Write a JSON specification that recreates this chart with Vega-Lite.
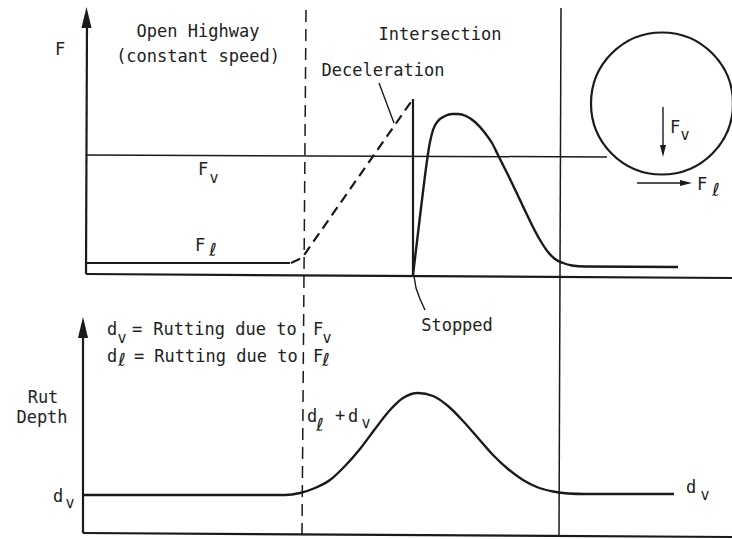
{
  "$schema": "https://vega.github.io/schema/vega-lite/v6.json",
  "width": 732,
  "height": 539,
  "autosize": {"type": "none"},
  "padding": 0,
  "background": "white",
  "config": {"view": {"stroke": null}},
  "datasets": {
    "lines": [
      {"id": "yaxisTop", "kind": "heavy", "o": 0, "x": 86, "y": 265},
      {"id": "yaxisTop", "kind": "heavy", "o": 1, "x": 87, "y": 519},
      {"id": "xaxisTop", "kind": "heavy", "o": 0, "x": 86, "y": 265},
      {"id": "xaxisTop", "kind": "heavy", "o": 1, "x": 732, "y": 261},
      {"id": "flBase", "kind": "heavy", "o": 0, "x": 86, "y": 276},
      {"id": "flBase", "kind": "heavy", "o": 1, "x": 290, "y": 276},
      {"id": "spike", "kind": "heavy", "o": 0, "x": 413, "y": 440},
      {"id": "spike", "kind": "heavy", "o": 1, "x": 413, "y": 264},
      {"id": "yaxisBot", "kind": "heavy", "o": 0, "x": 83, "y": 6},
      {"id": "yaxisBot", "kind": "heavy", "o": 1, "x": 83, "y": 204},
      {"id": "xaxisBot", "kind": "heavy", "o": 0, "x": 83, "y": 6},
      {"id": "xaxisBot", "kind": "heavy", "o": 1, "x": 732, "y": 2},
      {"id": "fvLine", "kind": "guide", "o": 0, "x": 86, "y": 384},
      {"id": "fvLine", "kind": "guide", "o": 1, "x": 607, "y": 382},
      {"id": "vSolid", "kind": "guide", "o": 0, "x": 561, "y": 531},
      {"id": "vSolid", "kind": "guide", "o": 1, "x": 559, "y": 4},
      {"id": "vDash", "kind": "dash", "o": 0, "x": 306, "y": 529},
      {"id": "vDash", "kind": "dash", "o": 1, "x": 302, "y": 4},
      {"id": "ramp", "kind": "decel", "o": 0, "x": 291, "y": 276},
      {"id": "ramp", "kind": "decel", "o": 1, "x": 302, "y": 281},
      {"id": "ramp", "kind": "decel", "o": 2, "x": 413, "y": 440},
      {"id": "decelPtr", "kind": "thin", "o": 0, "x": 379, "y": 456},
      {"id": "decelPtr", "kind": "thin", "o": 1, "x": 394, "y": 416},
      {"id": "stopPtr", "kind": "thin", "o": 0, "x": 414, "y": 263},
      {"id": "stopPtr", "kind": "thin", "o": 1, "x": 416, "y": 251},
      {"id": "stopPtr", "kind": "thin", "o": 2, "x": 420, "y": 240},
      {"id": "stopPtr", "kind": "thin", "o": 3, "x": 425, "y": 229},
      {"id": "fvShaft", "kind": "thin", "o": 0, "x": 663, "y": 432},
      {"id": "fvShaft", "kind": "thin", "o": 1, "x": 663, "y": 390},
      {"id": "flShaft", "kind": "thin", "o": 0, "x": 637, "y": 356},
      {"id": "flShaft", "kind": "thin", "o": 1, "x": 684, "y": 356}
    ],
    "curves": [
      {"id": "force", "o": 0, "x": 413, "y": 264},
      {"id": "force", "o": 1, "x": 421, "y": 331},
      {"id": "force", "o": 2, "x": 430, "y": 397},
      {"id": "force", "o": 3, "x": 433, "y": 409},
      {"id": "force", "o": 4, "x": 438, "y": 418},
      {"id": "force", "o": 5, "x": 445, "y": 423},
      {"id": "force", "o": 6, "x": 452, "y": 425},
      {"id": "force", "o": 7, "x": 458, "y": 425},
      {"id": "force", "o": 8, "x": 466, "y": 423},
      {"id": "force", "o": 9, "x": 475, "y": 417},
      {"id": "force", "o": 10, "x": 485, "y": 406},
      {"id": "force", "o": 11, "x": 492, "y": 396},
      {"id": "force", "o": 12, "x": 498, "y": 384},
      {"id": "force", "o": 13, "x": 510, "y": 360},
      {"id": "force", "o": 14, "x": 520, "y": 339},
      {"id": "force", "o": 15, "x": 530, "y": 318},
      {"id": "force", "o": 16, "x": 540, "y": 299},
      {"id": "force", "o": 17, "x": 548, "y": 287},
      {"id": "force", "o": 18, "x": 555, "y": 280},
      {"id": "force", "o": 19, "x": 563, "y": 276},
      {"id": "force", "o": 20, "x": 572, "y": 273.5},
      {"id": "force", "o": 21, "x": 585, "y": 272.5},
      {"id": "force", "o": 22, "x": 678, "y": 272},
      {"id": "rut", "o": 0, "x": 83, "y": 44},
      {"id": "rut", "o": 1, "x": 285, "y": 44},
      {"id": "rut", "o": 2, "x": 300, "y": 46},
      {"id": "rut", "o": 3, "x": 315, "y": 51},
      {"id": "rut", "o": 4, "x": 330, "y": 59},
      {"id": "rut", "o": 5, "x": 345, "y": 73},
      {"id": "rut", "o": 6, "x": 360, "y": 90},
      {"id": "rut", "o": 7, "x": 375, "y": 110},
      {"id": "rut", "o": 8, "x": 390, "y": 129},
      {"id": "rut", "o": 9, "x": 403, "y": 141},
      {"id": "rut", "o": 10, "x": 418, "y": 146},
      {"id": "rut", "o": 11, "x": 433, "y": 143},
      {"id": "rut", "o": 12, "x": 448, "y": 133},
      {"id": "rut", "o": 13, "x": 463, "y": 118},
      {"id": "rut", "o": 14, "x": 478, "y": 101},
      {"id": "rut", "o": 15, "x": 493, "y": 84},
      {"id": "rut", "o": 16, "x": 508, "y": 70},
      {"id": "rut", "o": 17, "x": 523, "y": 59},
      {"id": "rut", "o": 18, "x": 538, "y": 51.5},
      {"id": "rut", "o": 19, "x": 553, "y": 47.5},
      {"id": "rut", "o": 20, "x": 568, "y": 45.5},
      {"id": "rut", "o": 21, "x": 585, "y": 45},
      {"id": "rut", "o": 22, "x": 674, "y": 45}
    ],
    "heads": [
      {"dir": "up", "x": 86.5, "y": 521.5},
      {"dir": "up", "x": 83, "y": 211.5},
      {"dir": "down", "x": 663, "y": 388},
      {"dir": "right", "x": 686, "y": 356}
    ],
    "wheel": [
      {"x": 662, "y": 435.5}
    ],
    "labels": [
      {"t": "F", "x": 60, "y": 484},
      {"t": "Open Highway", "x": 198, "y": 502},
      {"t": "(constant speed)", "x": 198, "y": 477},
      {"t": "Intersection", "x": 440, "y": 499},
      {"t": "Deceleration", "x": 383, "y": 463},
      {"t": "F", "x": 203, "y": 364},
      {"t": "F", "x": 200, "y": 288},
      {"t": "Stopped", "x": 457, "y": 208},
      {"t": "d", "x": 112, "y": 204},
      {"t": "=", "x": 137, "y": 204},
      {"t": "Rutting due to", "x": 225, "y": 204},
      {"t": "F", "x": 318, "y": 204},
      {"t": "d", "x": 112, "y": 177},
      {"t": "=", "x": 139, "y": 177},
      {"t": "Rutting due to", "x": 226, "y": 177},
      {"t": "F", "x": 318, "y": 177},
      {"t": "Rut", "x": 43, "y": 136},
      {"t": "Depth", "x": 42, "y": 116},
      {"t": "d", "x": 58, "y": 37},
      {"t": "d", "x": 312, "y": 117},
      {"t": "+", "x": 340, "y": 118},
      {"t": "d", "x": 353, "y": 117},
      {"t": "d", "x": 691, "y": 46},
      {"t": "F", "x": 675, "y": 406},
      {"t": "F", "x": 702, "y": 349}
    ],
    "subs": [
      {"t": "v", "x": 214, "y": 356},
      {"t": "v", "x": 122, "y": 196},
      {"t": "v", "x": 327, "y": 196},
      {"t": "v", "x": 70, "y": 31},
      {"t": "v", "x": 366, "y": 111},
      {"t": "v", "x": 705, "y": 39},
      {"t": "v", "x": 685, "y": 399}
    ],
    "ells": [
      {"t": "ℓ", "x": 213, "y": 283},
      {"t": "ℓ", "x": 122, "y": 173},
      {"t": "ℓ", "x": 326, "y": 173},
      {"t": "ℓ", "x": 320, "y": 108},
      {"t": "ℓ", "x": 716, "y": 343}
    ]
  },
  "encoding": {
    "x": {"field": "x", "type": "quantitative", "scale": {"domain": [0, 732], "nice": false, "zero": false}, "axis": null},
    "y": {"field": "y", "type": "quantitative", "scale": {"domain": [0, 539], "nice": false, "zero": false}, "axis": null}
  },
  "layer": [
    {
      "data": {"name": "lines"},
      "transform": [{"filter": "datum.kind === 'heavy'"}],
      "mark": {"type": "line", "stroke": "#1a1a1a", "strokeWidth": 2.2, "strokeCap": "butt"},
      "encoding": {"detail": {"field": "id"}, "order": {"field": "o"}}
    },
    {
      "data": {"name": "lines"},
      "transform": [{"filter": "datum.kind === 'guide'"}],
      "mark": {"type": "line", "stroke": "#1a1a1a", "strokeWidth": 1.5},
      "encoding": {"detail": {"field": "id"}, "order": {"field": "o"}}
    },
    {
      "data": {"name": "lines"},
      "transform": [{"filter": "datum.kind === 'dash'"}],
      "mark": {"type": "line", "stroke": "#1a1a1a", "strokeWidth": 1.5, "strokeDash": [12, 7]},
      "encoding": {"detail": {"field": "id"}, "order": {"field": "o"}}
    },
    {
      "data": {"name": "lines"},
      "transform": [{"filter": "datum.kind === 'decel'"}],
      "mark": {"type": "line", "stroke": "#1a1a1a", "strokeWidth": 2.2, "strokeDash": [10, 6]},
      "encoding": {"detail": {"field": "id"}, "order": {"field": "o"}}
    },
    {
      "data": {"name": "lines"},
      "transform": [{"filter": "datum.kind === 'thin'"}],
      "mark": {"type": "line", "stroke": "#1a1a1a", "strokeWidth": 1.4},
      "encoding": {"detail": {"field": "id"}, "order": {"field": "o"}}
    },
    {
      "data": {"name": "curves"},
      "mark": {"type": "line", "stroke": "#1a1a1a", "strokeWidth": 2.4, "interpolate": "monotone"},
      "encoding": {"detail": {"field": "id"}, "order": {"field": "o"}}
    },
    {
      "data": {"name": "wheel"},
      "mark": {"type": "point", "shape": "circle", "size": 20164, "filled": false, "stroke": "#1a1a1a", "strokeWidth": 2.2, "opacity": 1}
    },
    {
      "data": {"name": "heads"},
      "transform": [{"filter": "datum.dir === 'up'"}],
      "mark": {"type": "point", "shape": "M0,-1L0.48,1L-0.48,1Z", "size": 441, "filled": true, "color": "#1a1a1a", "opacity": 1}
    },
    {
      "data": {"name": "heads"},
      "transform": [{"filter": "datum.dir === 'down'"}],
      "mark": {"type": "point", "shape": "M0,1L0.5,-1L-0.5,-1Z", "size": 144, "filled": true, "color": "#1a1a1a", "opacity": 1}
    },
    {
      "data": {"name": "heads"},
      "transform": [{"filter": "datum.dir === 'right'"}],
      "mark": {"type": "point", "shape": "M1,0L-1,0.5L-1,-0.5Z", "size": 144, "filled": true, "color": "#1a1a1a", "opacity": 1}
    },
    {
      "data": {"name": "labels"},
      "mark": {"type": "text", "font": "DejaVu Sans Mono", "fontSize": 17, "align": "center", "baseline": "alphabetic", "color": "#222222"},
      "encoding": {"text": {"field": "t"}}
    },
    {
      "data": {"name": "subs"},
      "mark": {"type": "text", "font": "DejaVu Sans Mono", "fontSize": 15, "align": "center", "baseline": "alphabetic", "color": "#222222"},
      "encoding": {"text": {"field": "t"}}
    },
    {
      "data": {"name": "ells"},
      "mark": {"type": "text", "font": "DejaVu Sans", "fontSize": 18, "align": "center", "baseline": "alphabetic", "color": "#222222"},
      "encoding": {"text": {"field": "t"}}
    }
  ]
}
